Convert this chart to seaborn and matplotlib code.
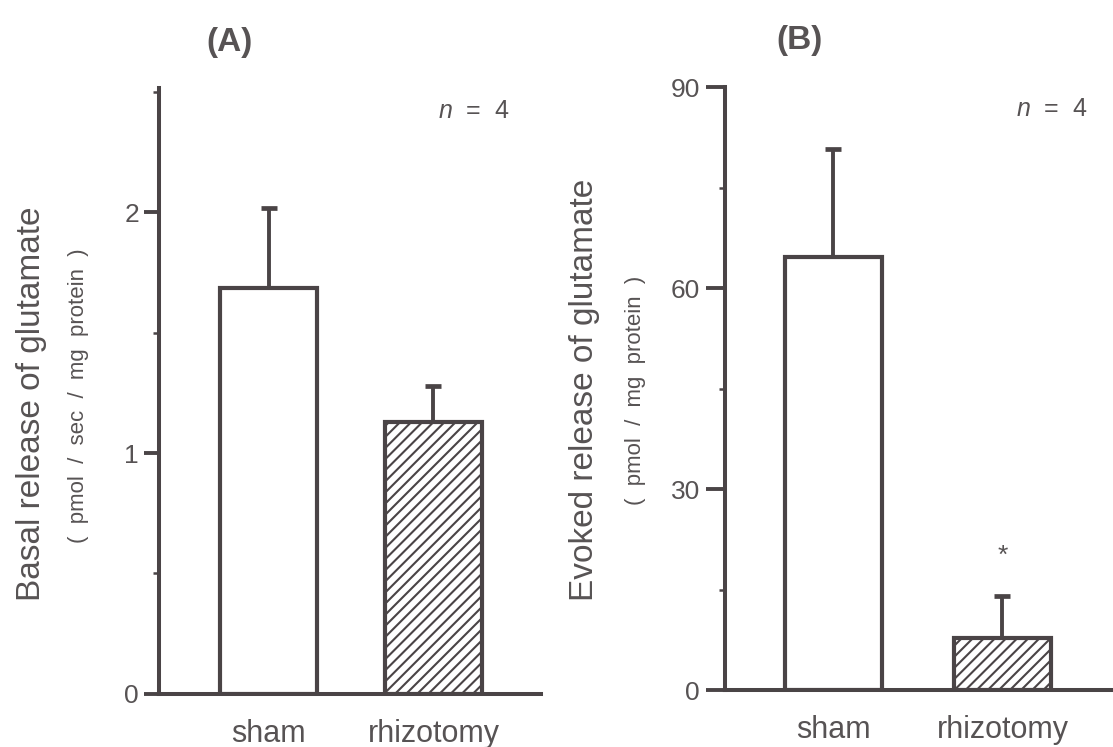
import matplotlib
matplotlib.use("Agg")
import matplotlib.pyplot as plt
import seaborn as sns
import pandas as pd
import numpy as np
from matplotlib.ticker import MultipleLocator

# Group labels and measured values (mean and upward SEM)
groups = ["sham", "rhizotomy"]
basal_mean = [1.685, 1.13]
basal_sem = [0.33, 0.15]
evoked_mean = [64.6, 7.8]
evoked_sem = [16.2, 6.2]

sns.set_theme(style="ticks")
plt.rcParams["font.family"] = ["Liberation Sans", "DejaVu Sans"]
plt.rcParams["mathtext.fontset"] = "custom"
plt.rcParams["mathtext.it"] = "Liberation Sans:italic"
plt.rcParams["mathtext.rm"] = "Liberation Sans"
plt.rcParams["hatch.linewidth"] = 1.5

INK = "#4a4446"
TEXT = "#575354"

fig = plt.figure(figsize=(11.13, 7.47), dpi=100)
fig.patch.set_facecolor("white")
axA = fig.add_axes([0.1429, 0.0710, 0.3432, 0.8112])
axB = fig.add_axes([0.6514, 0.0763, 0.3486, 0.8072])


def draw_panel(ax, means, sems, width, ylim, major, minor, xlim, ticklen):
    df = pd.DataFrame({"group": groups, "value": means})
    sns.barplot(data=df, x="group", y="value", ax=ax, color="white",
                edgecolor=INK, linewidth=3.0, width=width, saturation=1,
                errorbar=None, zorder=2)
    ax.patches[1].set_hatch("///")
    ax.errorbar(np.arange(len(groups)), means,
                yerr=[np.zeros(len(sems)), sems], fmt="none",
                ecolor=INK, elinewidth=2.8, capsize=6, capthick=3.4, zorder=1)
    ax.set_xlim(*xlim)
    ax.set_ylim(*ylim)
    ax.yaxis.set_major_locator(MultipleLocator(major))
    ax.yaxis.set_minor_locator(MultipleLocator(minor))
    ax.set_xlabel("")
    ax.set_ylabel("")
    sns.despine(ax=ax)
    for side in ("left", "bottom"):
        ax.spines[side].set_linewidth(2.9)
        ax.spines[side].set_color(INK)
    ax.tick_params(axis="y", which="major", length=ticklen, width=2.8,
                   color=INK, labelsize=19, labelcolor=TEXT, pad=4)
    ax.tick_params(axis="y", which="minor", length=4.5, width=1.8, color=INK)
    ax.tick_params(axis="x", length=0, labelsize=22, labelcolor=TEXT, pad=18)
    ax.set_facecolor("white")


draw_panel(axA, basal_mean, basal_sem, 0.59, (0, 2.515), 1, 0.5,
           (-0.664, 1.652), 10.5)
draw_panel(axB, evoked_mean, evoked_sem, 0.575, (0, 90), 30, 15,
           (-0.642, 1.654), 14)

# Significance mark above the rhizotomy bar in panel B
axB.text(1, 20.0, "*", ha="center", va="center", fontsize=19, color=TEXT)

# Panel titles
fig.text(229 / 1113, 1 - 42 / 747, "(A)", ha="center", va="center",
         fontsize=24, fontweight="bold", color=TEXT)
fig.text(800 / 1113, 1 - 40 / 747, "(B)", ha="center", va="center",
         fontsize=24, fontweight="bold", color=TEXT)

# Sample size notes
for x, y in ((474, 111), (1052, 109)):
    fig.text(x / 1113, 1 - y / 747, r"$\mathit{n}$  =  4", ha="center",
             va="center", fontsize=18, color=TEXT)

# Two-line axis titles
fig.text(32 / 1113, 1 - 404 / 747, "Basal release of glutamate", rotation=90,
         ha="center", va="center", fontsize=24, color=TEXT)
fig.text(79 / 1113, 1 - 396 / 747, "(  pmol  /  sec  /  mg  protein  )",
         rotation=90, ha="center", va="center", fontsize=16, color=TEXT)
fig.text(585 / 1113, 1 - 390 / 747, "Evoked release of glutamate", rotation=90,
         ha="center", va="center", fontsize=24, color=TEXT)
fig.text(636 / 1113, 1 - 390 / 747, "(  pmol  /  mg  protein  )", rotation=90,
         ha="center", va="center", fontsize=16, color=TEXT)

fig.savefig("out.png", dpi=100, facecolor="white")
